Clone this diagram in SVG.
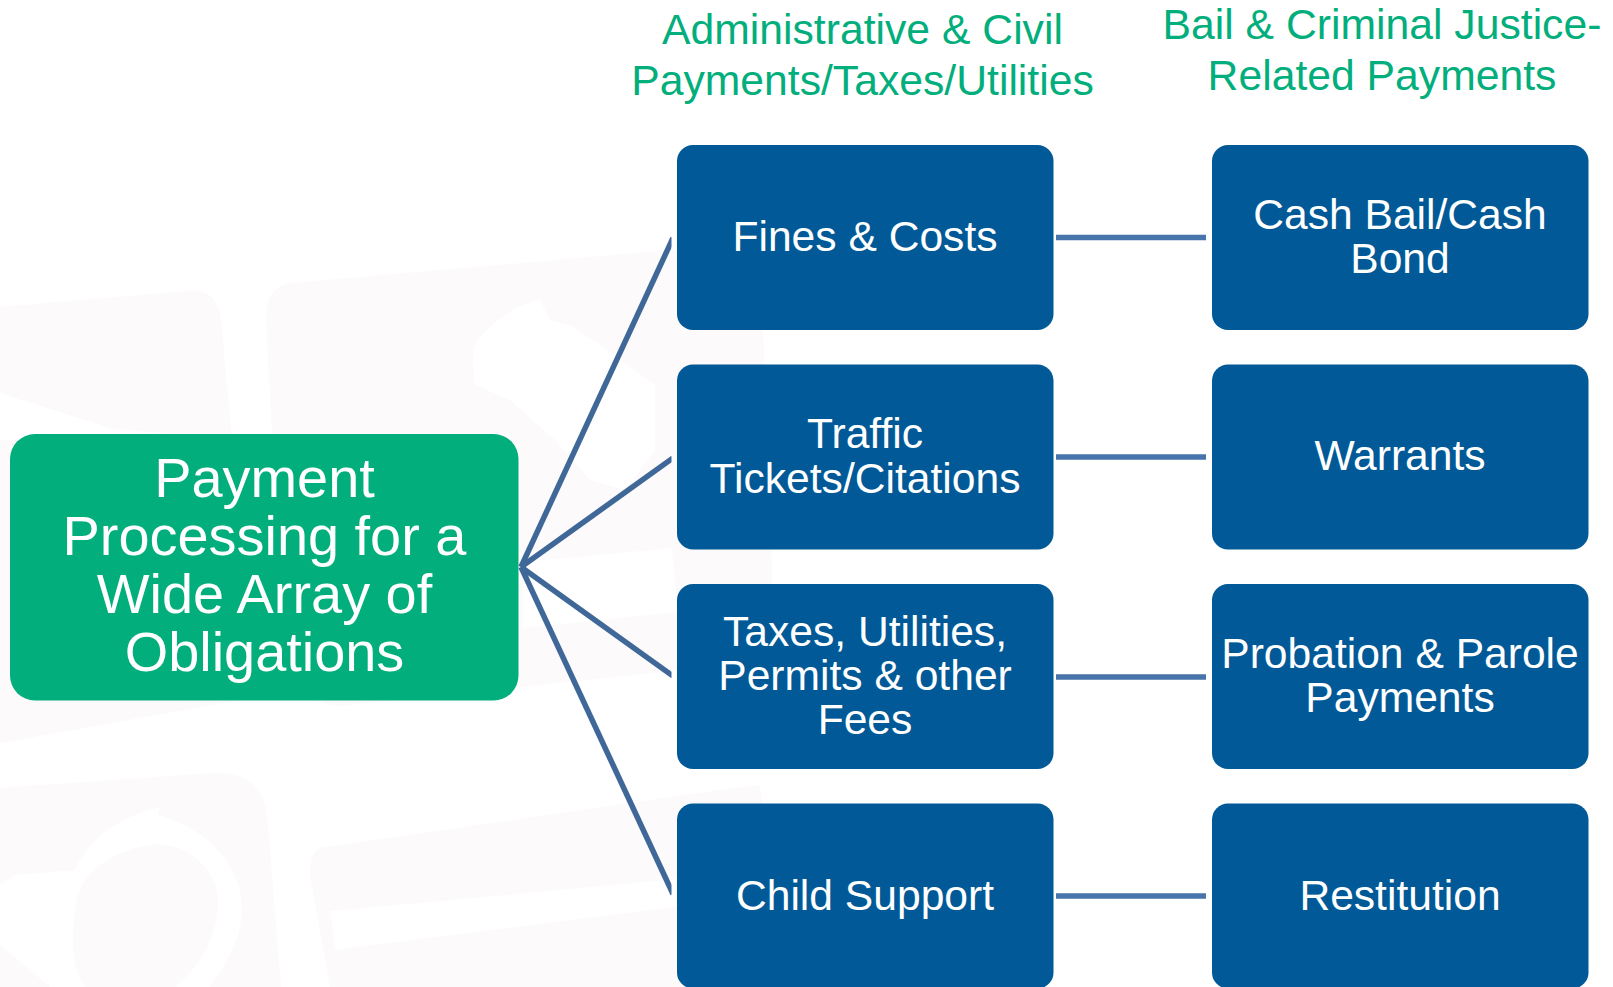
<svg xmlns="http://www.w3.org/2000/svg" width="1613" height="987" viewBox="0 0 1613 987">
<style>
.wm{fill:#fcfafb}
.wh{fill:#fff}
.box{fill:#015a97}
.root{fill:#02ae7c}
text{font-family:"Liberation Sans",Arial,sans-serif;text-anchor:middle}
.n{fill:#fff;font-size:42.6px}
.m{fill:#fff;font-size:55.9px}
.h{fill:#02ae7c;font-size:42.7px}
.d{stroke:#3f6899;stroke-width:5.500;fill:none}
.s{stroke:#4674ab;stroke-width:5.500;fill:none}
</style>
<defs><clipPath id="cut"><rect x="500" y="200" width="171.500" height="730"/></clipPath></defs>
<rect width="1613" height="987" fill="#fff"/>
<g id="watermark">
<path class="wm" d="M0 307L190 291Q218 289 221 320L232 440L240 700L0 743Z"/>
<path class="wh" d="M0 393L110 428L232 440L0 440Z"/>
<path class="wm" d="M292 283L660 251L760 244L775 660L340 706Q288 700 284 660L266 318Q266 286 292 283Z"/>
<path class="wh" d="M540 300L550 320L570 325L600 345L655 385L655 450L625 490L590 480L555 440L510 400L475 385C472 365 472 350 478 340C495 320 515 305 540 300Z"/>
<path class="wh" d="M523 562L672 548L678 612L523 628Z"/>
<path class="wm" d="M0 788L215 773Q262 772 267 815L281 987L0 987Z"/>
<path class="wh" d="M160 807L158 815C200 825 240 860 242 905C243 940 225 965 210 987L50 987L0 945L0 885L15 875L75 870C90 835 125 815 160 807Z"/>
<path class="wm" d="M150 845C190 840 220 875 218 905C215 945 195 970 175 987L85 987C70 970 70 920 80 890C90 865 120 850 150 845Z"/>
<path class="wm" d="M320 848L720 790L760 785L780 987L330 987L310 875Q310 852 320 848Z"/>
<path class="wh" d="M330 911L720 875L730 900L335 950Z"/>
</g>
<g id="connectors">
<g clip-path="url(#cut)">
<line class="d" x1="521" y1="567" x2="673" y2="238"/>
<line class="d" x1="521" y1="567" x2="673" y2="458"/>
<line class="d" x1="521" y1="567" x2="673" y2="676"/>
<line class="d" x1="521" y1="567" x2="673" y2="894"/>
</g>
<line class="s" x1="1056" y1="237.500" x2="1206" y2="237.500"/>
<line class="s" x1="1056" y1="457" x2="1206" y2="457"/>
<line class="s" x1="1056" y1="677" x2="1206" y2="677"/>
<line class="s" x1="1056" y1="896" x2="1206" y2="896"/>
</g>
<g id="header-admin"><text class="h" x="862.500" y="44">Administrative &amp; Civil</text><text class="h" x="862.500" y="94.500">Payments/Taxes/Utilities</text></g>
<g id="header-bail"><text class="h" x="1382" y="39">Bail &amp; Criminal Justice-</text><text class="h" x="1382" y="90">Related Payments</text></g>
<g id="root"><rect class="root" x="10" y="434" width="508.500" height="266.500" rx="25"/>
<text class="m" x="264.500" y="497">Payment</text><text class="m" x="264.500" y="555">Processing for a</text><text class="m" x="264.500" y="613">Wide Array of</text><text class="m" x="264.500" y="670.500">Obligations</text></g>
<g id="fines"><rect class="box" x="677" y="145" width="376.500" height="185" rx="16"/><text class="n" x="865" y="251">Fines &amp; Costs</text></g>
<g id="traffic"><rect class="box" x="677" y="364.500" width="376.500" height="185" rx="16"/><text class="n" x="865" y="447.500">Traffic</text><text class="n" x="865" y="492.500">Tickets/Citations</text></g>
<g id="taxes"><rect class="box" x="677" y="584" width="376.500" height="185" rx="16"/><text class="n" x="865" y="646">Taxes, Utilities,</text><text class="n" x="865" y="690.200">Permits &amp; other</text><text class="n" x="865" y="734.400">Fees</text></g>
<g id="child"><rect class="box" x="677" y="803.500" width="376.500" height="185" rx="16"/><text class="n" x="865" y="910">Child Support</text></g>
<g id="bail"><rect class="box" x="1212" y="145" width="376.500" height="185" rx="16"/><text class="n" x="1400" y="228.500">Cash Bail/Cash</text><text class="n" x="1400" y="272.700">Bond</text></g>
<g id="warrants"><rect class="box" x="1212" y="364.500" width="376.500" height="185" rx="16"/><text class="n" x="1400" y="470">Warrants</text></g>
<g id="probation"><rect class="box" x="1212" y="584" width="376.500" height="185" rx="16"/><text class="n" x="1400" y="667.500">Probation &amp; Parole</text><text class="n" x="1400" y="711.700">Payments</text></g>
<g id="restitution"><rect class="box" x="1212" y="803.500" width="376.500" height="185" rx="16"/><text class="n" x="1400" y="910">Restitution</text></g>
</svg>
